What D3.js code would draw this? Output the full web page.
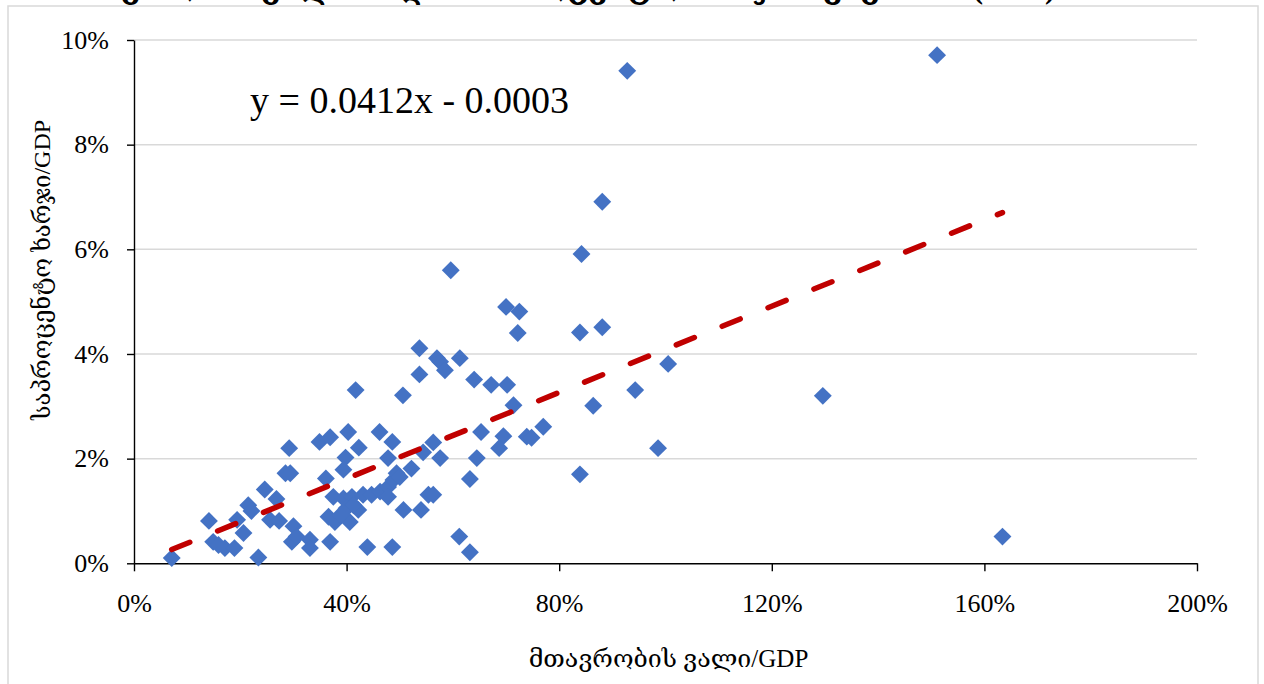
<!DOCTYPE html>
<html lang="ka">
<head>
<meta charset="utf-8">
<script src="https://d3js.org/d3.v7.min.js"></script>
<style>
    body { margin: 0; background: #fff; }
    svg { display: block; font-family: "Liberation Serif", "DejaVu Serif", serif; }
    .tick text { font-size: 26px; fill: #000; }
    .grid line { stroke: #d9d9d9; stroke-width: 1.5; }
</style>
</head>
<body>
<svg width="1264" height="684"></svg>
<script>
    // debt / GDP (x) and interest expense / GDP (y), one entry per country
    var debtRatio = [
        0.071, 0.141, 0.149, 0.159, 0.171, 0.189, 0.194, 0.206, 0.215, 0.221,
        0.234, 0.246, 0.268, 0.256, 0.273, 0.292, 0.285, 0.294, 0.300, 0.297,
        0.306, 0.331, 0.331, 0.349, 0.369, 0.403, 0.417, 0.361, 0.375, 0.369,
        0.366, 0.378, 0.398, 0.394, 0.423, 0.394, 0.410, 0.400, 0.406, 0.422,
        0.388, 0.431, 0.447, 0.463, 0.478, 0.488, 0.494, 0.478, 0.439, 0.462,
        0.486, 0.478, 0.506, 0.537, 0.537, 0.486, 0.507, 0.540, 0.522, 0.544,
        0.500, 0.554, 0.563, 0.563, 0.576, 0.570, 0.576, 0.585, 0.613, 0.640,
        0.672, 0.702, 0.714, 0.770, 0.739, 0.748, 0.695, 0.687, 0.653, 0.645,
        0.632, 0.612, 0.632, 0.596, 0.842, 0.700, 0.725, 0.722, 0.839, 0.881,
        1.005, 0.943, 0.864, 0.986, 0.839, 0.928, 0.881, 1.511, 1.296, 1.634,
        0.413
    ];
    var interestRatio = [
        0.0010, 0.0081, 0.0041, 0.0035, 0.0029, 0.0029, 0.0083, 0.0058, 0.0111, 0.0100,
        0.0011, 0.0141, 0.0123, 0.0083, 0.0081, 0.0220, 0.0172, 0.0172, 0.0071, 0.0041,
        0.0051, 0.0045, 0.0029, 0.0232, 0.0241, 0.0251, 0.0331, 0.0162, 0.0127, 0.0041,
        0.0089, 0.0079, 0.0202, 0.0179, 0.0221, 0.0124, 0.0127, 0.0105, 0.0079, 0.0102,
        0.0092, 0.0131, 0.0131, 0.0137, 0.0146, 0.0159, 0.0172, 0.0127, 0.0031, 0.0251,
        0.0232, 0.0201, 0.0321, 0.0411, 0.0361, 0.0031, 0.0102, 0.0102, 0.0181, 0.0212,
        0.0165, 0.0131, 0.0131, 0.0231, 0.0201, 0.0392, 0.0385, 0.0369, 0.0392, 0.0351,
        0.0341, 0.0341, 0.0302, 0.0261, 0.0242, 0.0240, 0.0243, 0.0220, 0.0251, 0.0201,
        0.0161, 0.0051, 0.0021, 0.0560, 0.0591, 0.0490, 0.0481, 0.0440, 0.0441, 0.0451,
        0.0381, 0.0331, 0.0301, 0.0220, 0.0170, 0.0941, 0.0691, 0.0971, 0.0320, 0.0051,
        0.0111
    ];
    var xTicks = [0, 0.4, 0.8, 1.2, 1.6, 2.0];
    var yTicks = [0, 0.02, 0.04, 0.06, 0.08, 0.10];
    // linear trend shown on the chart
    var trendSlope = 0.0412, trendIntercept = -0.0003;

    var title = "მთავრობის ვალისა და საპროცენტო ხარჯის კავშირი (2019)";
    var xTitle = "მთავრობის ვალი/GDP";
    var yTitle = "საპროცენტო ხარჯი/GDP";
    var equation = "y = 0.0412x - 0.0003";

    var points = debtRatio.map(function(d, i) { return {x: d, y: interestRatio[i]}; });

    var svg = d3.select("svg");
    var plotLeft = 134, plotRight = 1197, plotTop = 40, plotBottom = 563.3;

    var x = d3.scaleLinear().domain([0, 2]).range([plotLeft, plotRight]);
    var y = d3.scaleLinear().domain([0, 0.10]).range([plotBottom, plotTop]);
    var pct = d3.format(".0%");

    // outer frame
    svg.append("rect")
        .attr("x", 8).attr("y", 6)
        .attr("width", 1250).attr("height", 700)
        .attr("fill", "none")
        .attr("stroke", "#d9d9d9")
        .attr("stroke-width", 1.5);

    // title (sits above the frame, cut off by the page top)
    svg.append("text")
        .attr("x", 555).attr("y", -2)
        .attr("text-anchor", "middle")
        .style("font-size", "31px")
        .style("font-weight", "bold")
        .text(title);

    // gridlines
    svg.append("g")
        .attr("class", "grid")
        .selectAll("line")
        .data(yTicks.slice(1))
        .enter().append("line")
        .attr("x1", plotLeft).attr("x2", plotRight)
        .attr("y1", function(d) { return y(d); })
        .attr("y2", function(d) { return y(d); });

    var xAxis = svg.append("g")
        .attr("transform", "translate(0," + plotBottom + ")")
        .call(d3.axisBottom(x).tickValues(xTicks).tickFormat(pct).tickSize(8).tickPadding(22).tickSizeOuter(0));

    var yAxis = svg.append("g")
        .attr("transform", "translate(" + plotLeft + ",0)")
        .call(d3.axisLeft(y).tickValues(yTicks).tickFormat(pct).tickSize(7).tickPadding(18).tickSizeOuter(0));

    svg.selectAll(".domain, .tick line").attr("stroke", "#000").attr("stroke-width", 1.4);
    xAxis.attr("font-family", null).attr("font-size", null);
    yAxis.attr("font-family", null).attr("font-size", null);

    // markers
    var diamond = d3.symbol().type(d3.symbolSquare).size(160);
    svg.append("g")
        .selectAll("path")
        .data(points)
        .enter().append("path")
        .attr("d", diamond)
        .attr("transform", function(d) { return "translate(" + x(d.x) + "," + y(d.y) + ") rotate(45)"; })
        .attr("fill", "#4472c4");

    // trend line over the data's x range
    var xExt = d3.extent(debtRatio);
    var trend = xExt.map(function(v) { return {x: v, y: trendSlope * v + trendIntercept}; });
    svg.append("path")
        .datum(trend)
        .attr("d", d3.line().x(function(d) { return x(d.x); }).y(function(d) { return y(d.y); }))
        .attr("fill", "none")
        .attr("stroke", "#c00000")
        .attr("stroke-width", 5.5)
        .attr("stroke-linecap", "round")
        .attr("stroke-dasharray", "19.5,30");

    svg.append("text")
        .attr("x", 250).attr("y", 113)
        .style("font-size", "38px")
        .text(equation);

    svg.append("text")
        .attr("x", (plotLeft + plotRight) / 2 + 3).attr("y", 667)
        .attr("text-anchor", "middle")
        .style("font-size", "25px")
        .text(xTitle);

    svg.append("text")
        .attr("transform", "translate(50,270) rotate(-90)")
        .attr("text-anchor", "middle")
        .style("font-size", "24px")
        .text(yTitle);
</script>
</body>
</html>
